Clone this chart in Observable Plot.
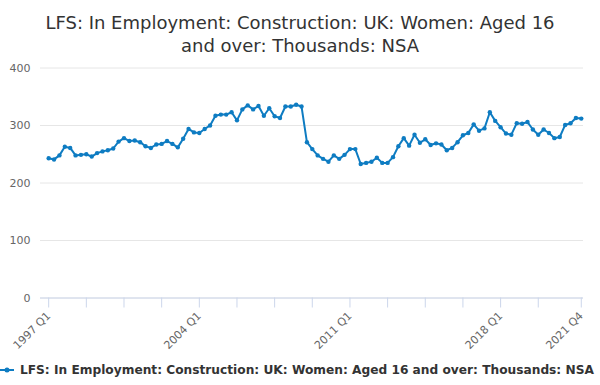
<!DOCTYPE html>
<html>
<head>
<meta charset="utf-8">
<script src="https://cdn.jsdelivr.net/npm/d3@7"></script>
<script src="https://cdn.jsdelivr.net/npm/@observablehq/plot@0.6"></script>
<style>
  html, body { margin: 0; padding: 0; background: #fff; }
  #wrap { position: relative; width: 600px; height: 385px; overflow: hidden; font-family: "DejaVu Sans", sans-serif; }
  #title { position: absolute; left: 0; top: 11px; width: 600px; text-align: center; font-size: 18px; line-height: 23px; color: #333; }
  #chart { position: absolute; left: 0; top: 60px; }
  #legend { position: absolute; left: 0; top: 362px; white-space: nowrap; font-size: 12.2px; font-weight: bold; color: #333; display: flex; align-items: center; }
  #legend svg { display: block; }
</style>
</head>
<body>
<div id="wrap">
  <div id="title">LFS: In Employment: Construction: UK: Women: Aged 16<br>and over: Thousands: NSA</div>
  <div id="chart"></div>
  <div id="legend"><svg width="20" height="16"><line x1="0" x2="14" y1="8" y2="8" stroke="#0e7cc2" stroke-width="2"></line><circle cx="7" cy="8" r="2.5" fill="#0e7cc2"></circle></svg><span>LFS: In Employment: Construction: UK: Women: Aged 16 and over: Thousands: NSA</span></div>
</div>
<script>
const seriesName = "LFS: In Employment: Construction: UK: Women: Aged 16 and over: Thousands: NSA";
const startYear = 1997;
const values = [
  243, 241, 248, 263, 261, 248, 249, 250, 246, 252,
  255, 257, 260, 272, 278, 273, 274, 271, 264, 261,
  267, 268, 273, 268, 262, 277, 294, 288, 287, 294,
  300, 317, 319, 319, 323, 309, 328, 335, 328, 334,
  317, 330, 316, 313, 333, 333, 336, 333, 271, 259,
  248, 242, 237, 248, 242, 249, 259, 259, 233, 235,
  237, 244, 235, 235, 245, 264, 278, 265, 284, 270,
  276, 266, 269, 267, 257, 261, 271, 283, 287, 302,
  291, 295, 323, 308, 297, 286, 284, 304, 303, 306,
  293, 284, 293, 287, 278, 280, 301, 304, 313, 312
];
const quarters = values.map((_, i) => `${startYear + Math.floor(i / 4)} Q${(i % 4) + 1}`);
const tickCategories = ["1997 Q1","1998 Q4","2000 Q3","2002 Q2","2004 Q1","2005 Q4","2007 Q3","2009 Q2","2011 Q1","2012 Q4","2014 Q3","2016 Q2","2018 Q1","2019 Q4","2021 Q4"];
const labelCategories = ["1997 Q1","2004 Q1","2011 Q1","2018 Q1","2021 Q4"];
const yTicks = [0, 100, 200, 300, 400];

const data = values.map((v, i) => ({i, q: quarters[i], v}));
const tickIdx = tickCategories.map(c => quarters.indexOf(c));
const labelIdx = labelCategories.map(c => quarters.indexOf(c));
const color = "#0e7cc2";

const chart = Plot.plot({
  width: 600,
  height: 290,
  marginLeft: 40,
  marginRight: 17,
  marginTop: 7.5,
  marginBottom: 52.5,
  style: {fontFamily: "DejaVu Sans, sans-serif", fontSize: "11px", color: "#666", background: "#fff", overflow: "visible"},
  x: {domain: [-1.52, 99.41], axis: null},
  y: {domain: [0, 400], axis: null},
  marks: [
    Plot.gridY(yTicks, {stroke: "#e6e6e6", strokeOpacity: 1}),
    Plot.axisY(yTicks, {tickSize: 0, tickPadding: 10, fill: "#666", label: null}),
    Plot.ruleY([0], {stroke: "#ccd6eb", strokeOpacity: 1}),
    Plot.axisX(tickIdx, {tickSize: 10, stroke: "#ccd6eb", strokeOpacity: 1, tickFormat: () => "", label: null}),
    Plot.axisX(labelIdx, {tickSize: 0, tickPadding: 16, tickRotate: -45, fill: "#666", label: null, tickFormat: d => quarters[d]}),
    Plot.line(data, {x: "i", y: "v", stroke: color, strokeWidth: 2}),
    Plot.dot(data, {x: "i", y: "v", fill: color, r: 2.2})
  ]
});
document.getElementById("chart").appendChild(chart);
</script>
</body>
</html>
